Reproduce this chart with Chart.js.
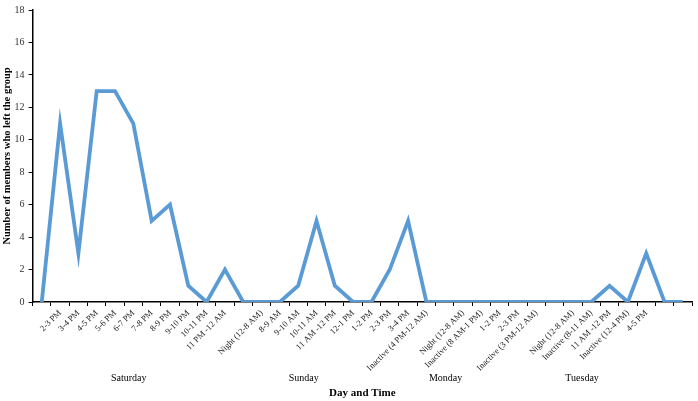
<!DOCTYPE html>
<html>
<head>
<meta charset="utf-8">
<script src="https://cdn.jsdelivr.net/npm/chart.js@4.4.0/dist/chart.umd.min.js"></script>
<style>
  html, body { margin: 0; padding: 0; background: #fff; }
</style>
</head>
<body>
<canvas id="myChart" width="698" height="401"></canvas>
<script>
// time slots, blanks separate the days
const slots = ['', '2-3 PM', '3-4 PM', '4-5 PM', '5-6 PM', '6-7 PM', '7-8 PM', '8-9 PM', '9-10 PM', '10-11 PM', '11 PM -12 AM',
    '', 'Night (12-8 AM)', '8-9 AM', '9-10 AM', '10-11 AM', '11 AM -12 PM', '12-1 PM', '1-2 PM', '2-3 PM', '3-4 PM', 'Inactive (4 PM-12 AM)',
    '', 'Night (12-8 AM)', 'Inactive (8 AM-1 PM)', '1-2 PM', '2-3 PM', 'Inactive (3 PM-12 AM)',
    '', 'Night (12-8 AM)', 'Inactive (8-11 AM)', '11 AM -12 PM', 'Inactive (12-4 PM)', '4-5 PM', '', '']
const leftGroup = [0, 11, 3, 13, 13, 11, 5, 6, 1, 0, 2,
    0, 0, 0, 1, 5, 1, 0, 0, 2, 5, 0,
    0, 0, 0, 0, 0, 0,
    0, 0, 0, 1, 0, 3, 0, 0]
const days = ['Saturday', 'Sunday', 'Monday', 'Tuesday']
const dayAt = [4.75, 14.3, 22.05, 29.5]   // category index under which the day name sits
const yTicks = [0, 2, 4, 6, 8, 10, 12, 14, 16, 18]

const serif = "'Liberation Serif', 'Times New Roman', serif"

const dayLabels = {
    id: 'dayLabels',
    afterDraw(chart) {
        const ctx = chart.ctx
        const x = chart.scales.x
        ctx.save()
        ctx.font = '10px ' + serif
        ctx.fillStyle = '#000'
        ctx.textAlign = 'center'
        ctx.textBaseline = 'middle'
        days.forEach((d, i) => {
            ctx.fillText(d, x.getPixelForValue(dayAt[i]), 378)
        })
        ctx.restore()
    }
}

var ctx = document.getElementById('myChart').getContext('2d');
var myChart = new Chart(ctx, {
    type: 'line',
    data: {
        labels: slots,
        datasets: [{
            data: leftGroup,
            borderColor: '#5b9bd5',
            borderWidth: 3.8,
            pointRadius: 0,
            tension: 0,
            fill: false
        }]
    },
    options: {
        responsive: false,
        animation: false,
        layout: { padding: { top: 5, right: 6 } },
        plugins: {
            legend: { display: false },
            tooltip: { enabled: false }
        },
        scales: {
            x: {
                offset: true,
                afterFit: (s) => { s.height = 99 },
                border: { color: '#000', width: 1.5 },
                grid: { offset: true, drawOnChartArea: false, drawTicks: true, tickLength: 4, color: '#000', lineWidth: 1 },
                ticks: {
                    autoSkip: false,
                    minRotation: 45,
                    maxRotation: 45,
                    padding: 2,
                    color: '#222',
                    font: { family: serif, size: 8.6 }
                },
                title: {
                    display: true,
                    text: 'Day and Time',
                    color: '#000',
                    padding: { top: 0, bottom: 1 },
                    font: { family: serif, size: 11, weight: 'bold' }
                }
            },
            y: {
                min: 0,
                max: 18,
                afterFit: (s) => { s.width = 32.6 },
                afterBuildTicks: (s) => { s.ticks = yTicks.map(v => ({ value: v })) },
                border: { color: '#000', width: 1.5 },
                grid: { drawOnChartArea: false, drawTicks: true, tickLength: 4, color: '#000' },
                ticks: {
                    padding: 4,
                    color: '#333',
                    font: { family: serif, size: 10 }
                },
                title: {
                    display: true,
                    text: 'Number of members who left the group',
                    color: '#000',
                    padding: { top: 1, bottom: 0 },
                    font: { family: serif, size: 10.5, weight: 'bold' }
                }
            }
        }
    },
    plugins: [dayLabels]
});
</script>
</body>
</html>
